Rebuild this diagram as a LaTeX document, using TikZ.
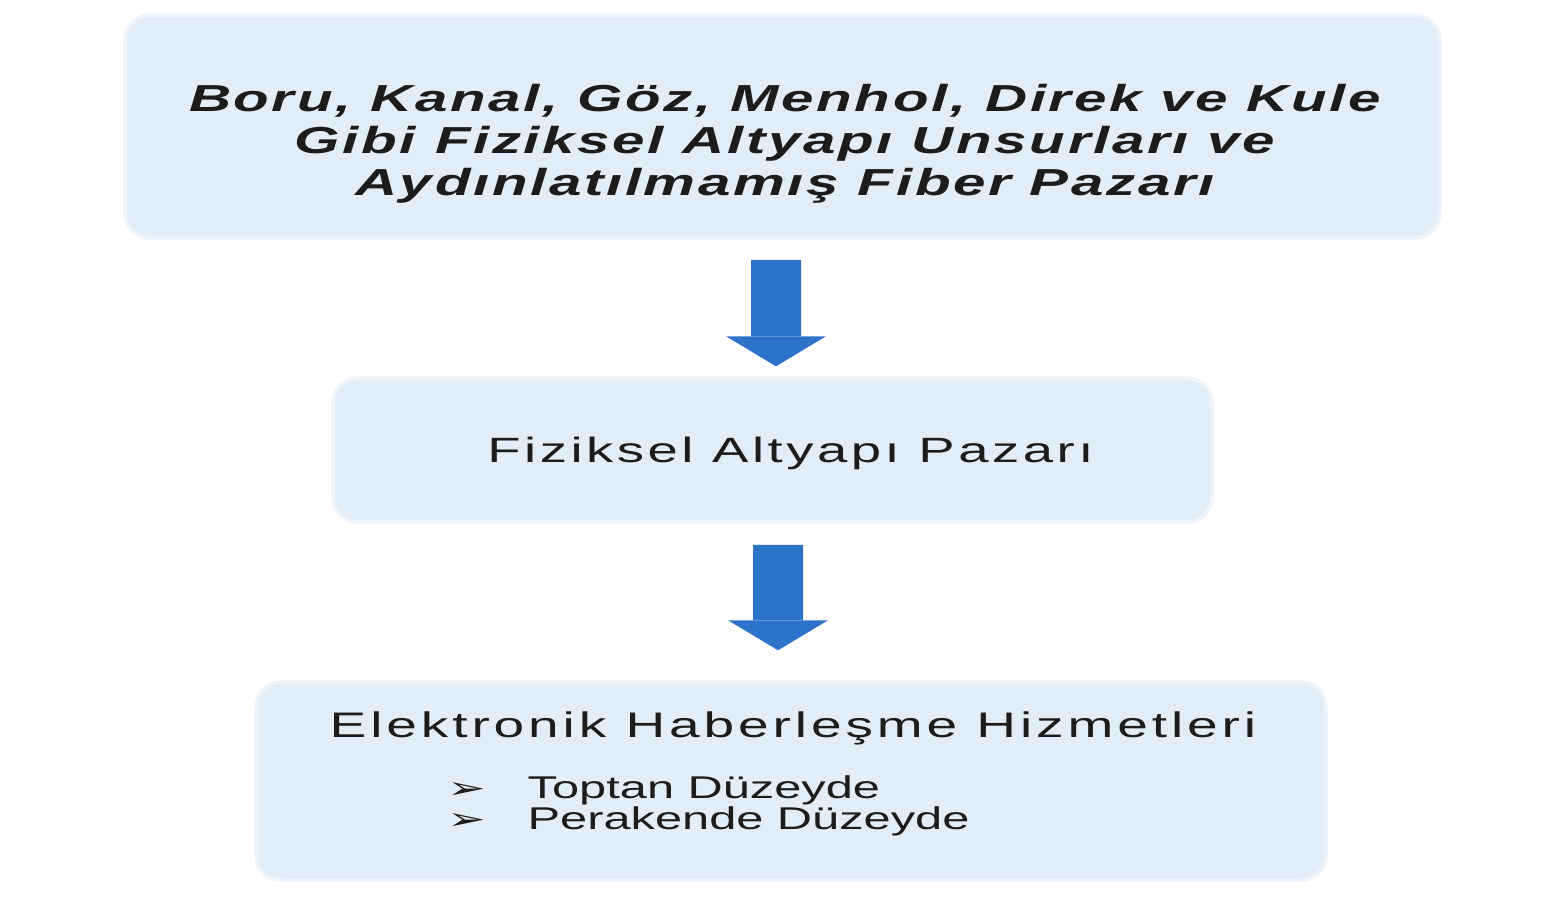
\documentclass[tikz,border=0pt]{standalone}
\usepackage{fontspec}
\setmainfont{Liberation Sans}
\newfontfamily\topfont[FakeStretch=1.55,LetterSpace=7]{Liberation Sans}
\newfontfamily\midfont[FakeStretch=1.55,LetterSpace=10]{Liberation Sans}
\newfontfamily\lowfont[FakeStretch=1.55,LetterSpace=11]{Liberation Sans}
\newfontfamily\listfont[FakeStretch=1.55]{Liberation Sans}
\newfontfamily\symfont[FakeStretch=1.55]{DejaVu Sans}
\usepackage{tikz}
\usetikzlibrary{arrows.meta,positioning}
\definecolor{panelblue}{HTML}{E2EDF8}
\definecolor{flowblue}{HTML}{2E73CA}
\definecolor{inkgray}{HTML}{1C1C1C}

\begin{document}
\begin{tikzpicture}[panel/.style={rectangle, rounded corners=0.25cm, fill=panelblue, draw=panelblue!60, line width=1pt, inner sep=0pt},
  flow/.style={draw=flowblue, line width=0.5cm, -{Triangle[width=1cm,length=0.3cm,line width=0pt]}, flowblue}]
\useasboundingbox (0,0) rectangle (15.64,-9.05);

\node[panel, minimum width=13.15cm, minimum height=2.23cm] (box1) at (7.825,-1.265) {};
\node[panel, minimum width=8.79cm, minimum height=1.44cm] (box2) at (7.725,-4.50) {};
\node[panel, minimum width=10.70cm, minimum height=1.98cm] (box3) at (7.91,-7.81) {};

\node[align=center, text=inkgray, font=\topfont\bfseries\itshape\fontsize{10.7pt}{11.95pt}\selectfont] (t1) at (7.85,-1.44)
  {Boru, Kanal, Göz, Menhol, Direk ve Kule\\Gibi Fiziksel Altyapı Unsurları ve\\Aydınlatılmamış Fiber Pazarı};
\node[anchor=base, text=inkgray, font=\midfont\fontsize{10pt}{12pt}\selectfont] (t2) at (7.905,-4.62) {Fiziksel Altyapı Pazarı};
\node[anchor=base, text=inkgray, font=\lowfont\fontsize{10.1pt}{12pt}\selectfont] (t3) at (7.93,-7.37) {Elektronik Haberleşme Hizmetleri};
\node[anchor=base west, align=left, inner sep=0pt, text=inkgray, font=\listfont\fontsize{8.95pt}{8.8pt}\selectfont] (t4) at (4.47,-8.29)
  {\makebox[0.8cm][l]{\symfont\fontsize{8.5pt}{8.5pt}\selectfont ➢}Toptan Düzeyde\\\makebox[0.8cm][l]{\symfont\fontsize{8.5pt}{8.5pt}\selectfont ➢}Perakende Düzeyde};

\draw[flow, shorten <=0.2cm, shorten >=0.1cm] ([xshift=-0.065cm]box1.south) -- ([xshift=0.035cm]box2.north);
\draw[flow, shorten <=0.21cm, shorten >=0.3cm] ([xshift=0.055cm]box2.south) -- ([xshift=-0.13cm]box3.north);
\end{tikzpicture}
\end{document}
